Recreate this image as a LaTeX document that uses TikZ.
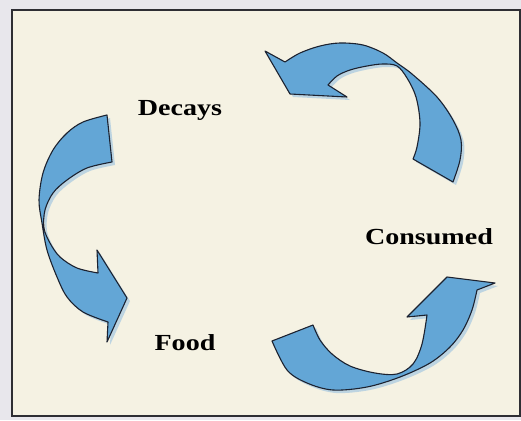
\documentclass[tikz,border=0pt]{standalone}
\usepackage{fontspec}
\setmainfont{Liberation Serif}
\definecolor{pagebg}{HTML}{E8E7EC}
\definecolor{boxbg}{HTML}{F5F2E3}
\definecolor{framec}{HTML}{2E2E33}
\definecolor{arrowfill}{HTML}{63A6D6}
\definecolor{arrowline}{HTML}{1C2230}
\definecolor{shadowc}{HTML}{8FBCE0}
\tikzset{
  ribbon/.style={fill=arrowfill, draw=arrowline, line width=1.1pt, line join=round},
  ribbonshadow/.style={fill=shadowc, opacity=0.55},
  lbl/.style={font=\bfseries\fontsize{23}{23}\selectfont, xscale=1.22, text=black, inner sep=0pt}
}
\newcommand\arrowTop[1]{%
  \path[#1] (265,51) -- (285,62)
   -- plot[smooth, tension=0.55] coordinates {(285,62) (300,53) (320,46) (340,43) (363,45) (383,53) (397,63) (412,74) (437,97) (453,120) (461,140) (460,160) (453,182)}
   -- (413,159)
   -- plot[smooth, tension=0.55] coordinates {(413,159) (417,147) (420,123) (416,97) (407,78) (397,66) (383,64) (367,66) (350,70) (337,76) (328,85)}
   -- (347,97) -- (290,94) -- cycle;}
\newcommand\arrowLeft[1]{%
  \path[#1] (107,115)
   -- plot[smooth, tension=0.55] coordinates {(107,115) (83,122) (67,133) (53,150) (43,173) (39,200) (42,223) (47,250) (57,277) (67,297) (83,312) (108,322)}
   -- (107,342) -- (127,298) -- (97,250) -- (98,273)
   -- plot[smooth, tension=0.55] coordinates {(98,273) (77,268) (60,257) (50,243) (44,228) (45,210) (53,193) (67,180) (87,168) (112,162)}
   -- cycle;}
\newcommand\arrowBottom[1]{%
  \path[#1] (272,341) -- (313,325)
   -- plot[smooth, tension=0.55] coordinates {(313,325) (320,340) (332,354) (350,366) (375,373) (397,374) (413,364) (422,344) (427,315)}
   -- (407,317) -- (447,277) -- (495,283) -- (477,290)
   -- plot[smooth, tension=0.55] coordinates {(477,290) (472,310) (463,330) (450,347) (430,363) (400,377) (367,387) (333,390) (307,383) (287,370) (272,341)}
   -- cycle;}
\begin{document}
\begin{tikzpicture}[x=1pt, y=-1pt]
  \useasboundingbox (0,0) rectangle (521,420);
  \fill[pagebg] (0,0) rectangle (521,420);
  \fill[boxbg] (12,10) rectangle (520,416);
  \draw[framec, line width=1.8pt] (12,10) rectangle (520,416);
  % shadows
  \begin{scope}[shift={(3,3)}]
    \arrowTop{ribbonshadow}
    \arrowLeft{ribbonshadow}
    \arrowBottom{ribbonshadow}
  \end{scope}
  % arrows
  \arrowTop{ribbon}
  \arrowLeft{ribbon}
  \arrowBottom{ribbon}
  % labels
  \node[lbl] (decays) at (180,110) {Decays};
  \node[lbl] (consumed) at (429,237) {Consumed};
  \node[lbl] (food) at (185,343) {Food};
\end{tikzpicture}
\end{document}
